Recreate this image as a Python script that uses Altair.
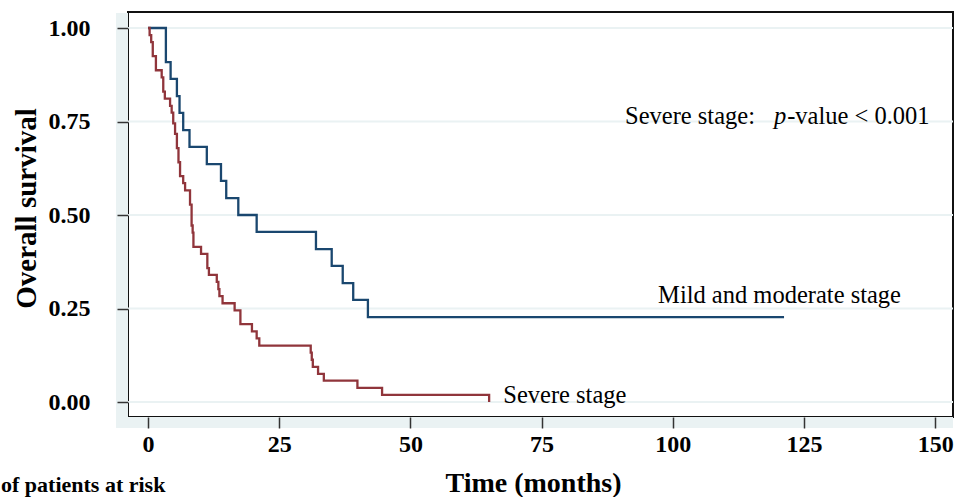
import altair as alt
import pandas as pd

# ---- data ----
mild_time = [0, 3.4, 4.3, 5.5, 6.0, 6.7, 7.9, 11.2, 13.9, 14.9, 17.2, 20.7, 32.0, 35.0, 37.1, 39.1, 41.9, 121.2]
mild_surv = [1.0, 0.909, 0.864, 0.818, 0.773, 0.727, 0.682, 0.636, 0.591, 0.545, 0.5, 0.455, 0.409, 0.364, 0.318, 0.273, 0.227, 0.227]

severe_time = [0, 0.3, 0.6, 0.9, 1.5, 2.6, 2.9, 3.2, 4.2, 4.5, 4.8, 5.15, 5.5, 5.8, 6.1, 6.7, 7.06, 8.0, 8.3, 8.5,
               8.65, 10.1, 11.3, 11.6, 13.1, 13.4, 13.6, 14.2, 16.5, 17.6, 19.8, 20.7, 21.2, 31.0, 31.2, 31.4, 32.4,
               33.5, 39.9, 44.6, 65.0]
severe_surv = [1.0, 0.981, 0.962, 0.925, 0.887, 0.868, 0.830, 0.811, 0.792, 0.774, 0.745, 0.717, 0.679, 0.641, 0.604,
               0.585, 0.566, 0.528, 0.472, 0.453, 0.415, 0.396, 0.358, 0.340, 0.321, 0.302, 0.283, 0.264, 0.245, 0.208,
               0.189, 0.170, 0.151, 0.132, 0.113, 0.094, 0.075, 0.057, 0.038, 0.019, 0.0]

groups = ["Mild and moderate stage", "Severe stage"]
group_colors = ["#1a476f", "#90353b"]

x_ticks = [0, 25, 50, 75, 100, 125, 150]
y_ticks = [0.0, 0.25, 0.5, 0.75, 1.0]

label_text = ["Mild and moderate stage", "Severe stage", "Severe stage:", "-value < 0.001"]
label_x = [97.2, 67.7, 90.9, 121.8]
label_y = [0.283, 0.016, 0.762, 0.762]
italic_text = ["p"]
italic_x = [119.3]
italic_y = [0.762]
risk_text = ["of patients at risk"]

# ---- tables ----
curves = pd.concat([
    pd.DataFrame({"time": mild_time, "surv": mild_surv, "group": groups[0]}),
    pd.DataFrame({"time": severe_time, "surv": severe_surv, "group": groups[1]}),
])
grid_df = pd.DataFrame({"v": y_ticks})
lab_df = pd.DataFrame({"time": label_x, "surv": label_y, "text": label_text})
ital_df = pd.DataFrame({"time": italic_x, "surv": italic_y, "text": italic_text})
risk_df = pd.DataFrame({"text": risk_text})

W, H = 825, 405
SERIF = "Liberation Serif"
xscale = alt.Scale(domain=[-3.82, 153.4], nice=False, zero=False)
yscale = alt.Scale(domain=[-0.0401, 1.0428], nice=False, zero=False)

xaxis = alt.Axis(values=x_ticks, format="d", title="Time (months)", grid=False, domain=False,
                 tickSize=11, tickColor="#333333", tickWidth=1.5,
                 labelFont=SERIF, labelFontSize=24, labelFontWeight="bold", labelColor="black",
                 labelPadding=4, labelFlush=False, labelOverlap=False,
                 titleFont=SERIF, titleFontSize=28, titleFontWeight="bold", titleColor="black",
                 titleX=405, titleY=74, titleBaseline="alphabetic", titleAlign="center", zindex=1)
yaxis = alt.Axis(values=y_ticks, format=".2f", title="Overall survival", grid=False, domain=False,
                 tickSize=11, tickColor="#333333", tickWidth=1.5,
                 labelFont=SERIF, labelFontSize=24, labelFontWeight="bold", labelColor="black",
                 labelPadding=27, labelFlush=False, labelOverlap=False,
                 titleFont=SERIF, titleFontSize=29, titleFontWeight="bold", titleColor="black",
                 titleAngle=270, titleX=-93, titleY=196, titleBaseline="alphabetic", titleAlign="center", zindex=1)

X = alt.X("time:Q", scale=xscale, axis=xaxis)
Y = alt.Y("surv:Q", scale=yscale, axis=yaxis)

band_color = "#eaf2f3"
band_left = alt.Chart(grid_df).mark_rect(color=band_color).encode(
    x=alt.value(-12), x2=alt.value(0), y=alt.value(1), y2=alt.value(H + 11))
band_bottom = alt.Chart(grid_df).mark_rect(color=band_color).encode(
    x=alt.value(-12), x2=alt.value(W), y=alt.value(H), y2=alt.value(H + 11))

grid = alt.Chart(grid_df).mark_rule(color=band_color, strokeWidth=2).encode(
    y=alt.Y("v:Q", scale=yscale, axis=yaxis))

lines = alt.Chart(curves).mark_line(interpolate="step-after", strokeWidth=2.3, strokeCap="butt").encode(
    x=X, y=Y,
    color=alt.Color("group:N", scale=alt.Scale(domain=groups, range=group_colors), legend=None),
    detail="group:N")

labels = alt.Chart(lab_df).mark_text(font=SERIF, fontSize=24.5, align="left", baseline="middle",
                                     color="black").encode(x=X, y=Y, text="text:N")
italic = alt.Chart(ital_df).mark_text(font=SERIF, fontSize=24.5, fontStyle="italic", align="left",
                                      baseline="middle", color="black").encode(x=X, y=Y, text="text:N")

risk = alt.Chart(risk_df).mark_text(font=SERIF, fontSize=22, fontWeight="bold", align="left",
                                    baseline="alphabetic", color="black").encode(
    x=alt.value(-127), y=alt.value(480), text="text:N")

chart = alt.layer(band_left, band_bottom, grid, lines, labels, italic, risk).properties(
    width=W, height=H,
    autosize=alt.AutoSizeParams(type="none"),
    padding={"left": 128, "top": 12, "right": 13, "bottom": 80},
    background="white",
).configure_view(stroke="#111111", strokeWidth=2, fill="white")

chart.save("out.html", embed_options={"renderer": "svg", "actions": False})
